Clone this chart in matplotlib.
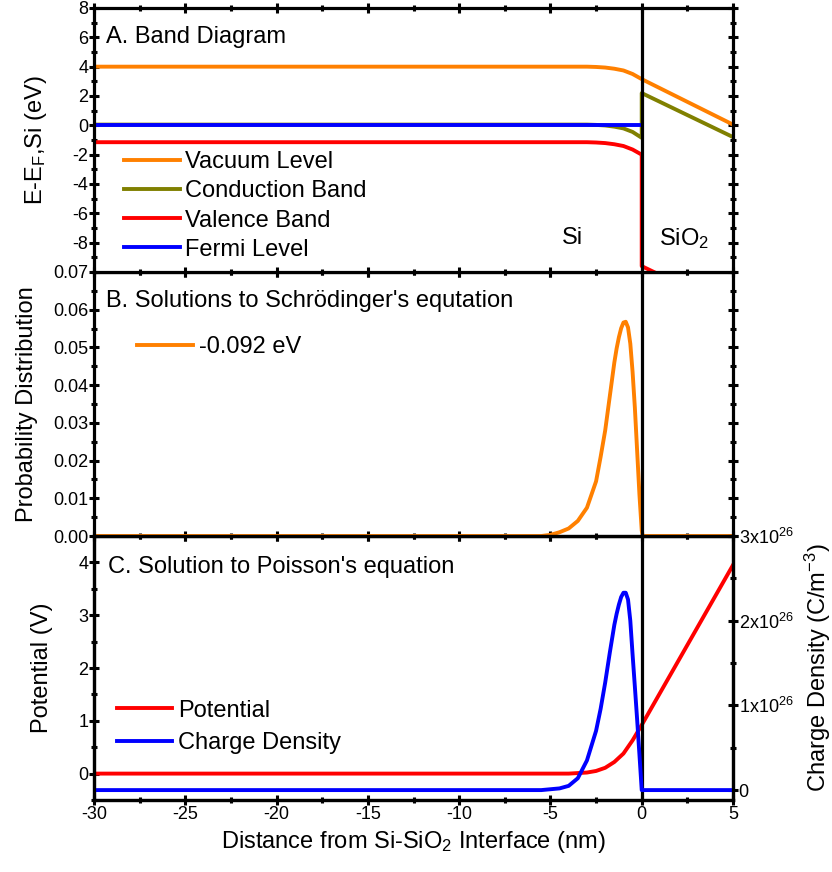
import numpy as np
import matplotlib
matplotlib.use("Agg")
import matplotlib.pyplot as plt
from matplotlib.ticker import MultipleLocator, FixedLocator, FixedFormatter, FormatStrFormatter

plt.rcParams['font.family'] = ['Liberation Sans', 'DejaVu Sans']
plt.rcParams['mathtext.fontset'] = 'custom'
plt.rcParams['mathtext.rm'] = 'Liberation Sans'
plt.rcParams['mathtext.it'] = 'Liberation Sans'
plt.rcParams['mathtext.default'] = 'regular'
plt.rcParams['axes.unicode_minus'] = False

ORANGE = '#ff8000'
OLIVE = '#808000'
RED = '#ff0000'
BLUE = '#0000ff'

# --- A. band diagram (eV) ---
x_band = [-30, -3, -2.5, -2, -1.5, -1, -0.5, 0]
vacuum_si = [4.0, 4.0, 3.98, 3.94, 3.86, 3.74, 3.5, 3.15]
cond_si = [0.05, 0.05, 0.03, -0.01, -0.09, -0.21, -0.45, -0.85]
val_si = [-1.15, -1.15, -1.17, -1.21, -1.29, -1.41, -1.65, -2.0]
x_ox = [0, 5]
vacuum_ox = [3.15, 0.05]
cond_ox = [2.2, -0.8]
val_ox = [-9.6, -12.6]
x_fermi = [-30, 0]
fermi = [0, 0]

# --- B. probability distribution (-0.092 eV state) ---
x_prob = [-30, -5.5, -5, -4.5, -4, -3.5, -3, -2.5, -2.25, -2, -1.75, -1.5,
          -1.375, -1.25, -1.125, -1.0, -0.875, -0.75, -0.625, -0.5, -0.375,
          -0.25, -0.125, 0, 0.05, 5]
prob = [0, 0, 0.0003, 0.001, 0.002, 0.004, 0.0075, 0.0145, 0.021, 0.028, 0.037,
        0.046, 0.0497, 0.0527, 0.0551, 0.0566, 0.0568, 0.0553, 0.051, 0.0435,
        0.034, 0.0225, 0.011, 0.0015, 0, 0]

# --- C. Poisson solution ---
x_pot = [-30, -4, -3, -2.5, -2, -1.5, -1, -0.5, 0, 5]
potential = [0, 0, 0.02, 0.05, 0.11, 0.22, 0.38, 0.63, 0.92, 3.95]
x_rho = [-30, -5.5, -4.5, -4, -3.5, -3, -2.5, -2.25, -2, -1.75, -1.5, -1.375,
         -1.25, -1.125, -1.0, -0.875, -0.75, -0.625, -0.5, -0.375, -0.25,
         -0.125, 0, 0.05, 5]
rho = np.array([0, 0, 0.02, 0.05, 0.14, 0.35, 0.7, 0.96, 1.27, 1.62, 1.95, 2.08,
                2.19, 2.28, 2.33, 2.33, 2.25, 2.0, 1.6, 1.22, 0.83, 0.42, 0.0,
                0, 0]) * 1e26

rho_ticks = [0, 1e26, 2e26, 3e26]
rho_labels = ['0', r'1x10$^{26}$', r'2x10$^{26}$', r'3x10$^{26}$']

LW = 2.8
FS = 17
TFS = 13

fig = plt.figure(figsize=(8.32, 8.72), dpi=100)
left, width = 94 / 832, 639 / 832
h = 264 / 872
bot_c = 1 - 800 / 872
axC = fig.add_axes([left, bot_c, width, h])
axB = fig.add_axes([left, bot_c + h, width, h], sharex=axC)
axA = fig.add_axes([left, bot_c + 2 * h, width, h], sharex=axC)

leg_kw = dict(loc='upper left', frameon=False, fontsize=FS, handlelength=2.35,
              handletextpad=0.25, borderaxespad=0, borderpad=0)

# panel A
axA.plot(x_band + x_ox, vacuum_si + vacuum_ox, color=ORANGE, lw=LW, label='Vacuum Level')
axA.plot(x_band + x_ox, cond_si + cond_ox, color=OLIVE, lw=LW, label='Conduction Band')
axA.plot(x_band + x_ox, val_si + val_ox, color=RED, lw=LW, label='Valence Band')
axA.plot(x_fermi, fermi, color=BLUE, lw=LW, label='Fermi Level')
axA.set_ylim(-10, 8)
axA.yaxis.set_major_locator(FixedLocator([-8, -6, -4, -2, 0, 2, 4, 6, 8]))
axA.yaxis.set_minor_locator(MultipleLocator(1))
axA.set_ylabel(r'E-E$_F$,Si (eV)', fontsize=FS)
axA.yaxis.set_label_coords(-0.07, 0.5)
axA.text(0.019, 0.867, 'A. Band Diagram', transform=axA.transAxes, fontsize=FS, va='baseline')
axA.text(-3.77, -7.7, 'Si', fontsize=FS, ha='center', va='center')
axA.text(2.3, -7.7, r'SiO$_2$', fontsize=FS, ha='center', va='center')
axA.legend(bbox_to_anchor=(0.047, 0.457), labelspacing=0.3, **leg_kw)

# panel B
axB.plot(x_prob, prob, color=ORANGE, lw=LW, label='-0.092 eV')
axB.set_ylim(0, 0.07)
axB.yaxis.set_major_locator(MultipleLocator(0.01))
axB.yaxis.set_minor_locator(MultipleLocator(0.005))
axB.yaxis.set_major_formatter(FormatStrFormatter('%.2f'))
axB.set_ylabel('Probability Distribution', fontsize=FS)
axB.yaxis.set_label_coords(-0.087, 0.5)
axB.text(0.019, 0.869, "B. Solutions to Schrödinger's equtation", transform=axB.transAxes,
         fontsize=FS, va='baseline')
axB.legend(bbox_to_anchor=(0.068, 0.757), **leg_kw)

# panel C
axR = axC.twinx()
lp, = axC.plot(x_pot, potential, color=RED, lw=LW, label='Potential')
lr, = axR.plot(x_rho, rho, color=BLUE, lw=LW, label='Charge Density')
axC.set_ylim(-0.5, 4.5)
axC.yaxis.set_major_locator(FixedLocator([0, 1, 2, 3, 4]))
axC.yaxis.set_minor_locator(MultipleLocator(0.5))
axR.set_ylim(-0.117e26, 3e26)
axR.yaxis.set_major_locator(FixedLocator(rho_ticks))
axR.yaxis.set_major_formatter(FixedFormatter(rho_labels))
axR.yaxis.set_minor_locator(MultipleLocator(0.5e26))
axC.set_xlim(-30, 5)
axC.xaxis.set_major_locator(MultipleLocator(5))
axC.xaxis.set_minor_locator(MultipleLocator(2.5))
axC.set_ylabel('Potential (V)', fontsize=FS)
axC.yaxis.set_label_coords(-0.064, 0.5)
axR.set_ylabel(r'Charge Density (C/m$^{-3}$)', fontsize=FS)
axR.yaxis.set_label_coords(1.11, 0.5)
axC.set_xlabel(r'Distance from Si-SiO$_2$ Interface (nm)', fontsize=FS)
axC.text(0.022, 0.86, "C. Solution to Poisson's equation", transform=axC.transAxes,
         fontsize=FS, va='baseline')
axC.legend([lp, lr], ['Potential', 'Charge Density'], bbox_to_anchor=(0.036, 0.38),
           labelspacing=0.44, **leg_kw)

# frame, interface line and ticks (one call per tick kind, direction given every time)
for ax in (axA, axB, axC, axR):
    for s in ax.spines.values():
        s.set_linewidth(2.3)
for ax in (axA, axB, axC):
    ax.axvline(0, color='black', lw=2.3, zorder=5)
    ax.tick_params(axis='x', which='major', direction='inout', length=7, width=2.2,
                   color='black', top=True, bottom=True, labelsize=TFS, pad=1)
    ax.tick_params(axis='x', which='minor', direction='inout', length=5, width=2.2,
                   color='black', top=True, bottom=True)
for ax, r in ((axA, True), (axB, True), (axC, False)):
    ax.tick_params(axis='y', which='major', direction='inout', length=7, width=2.2,
                   color='black', left=True, right=r, labelsize=TFS, pad=0.5)
    ax.tick_params(axis='y', which='minor', direction='inout', length=5, width=2.2,
                   color='black', left=True, right=r)
axR.tick_params(axis='y', which='major', direction='inout', length=7, width=2.2,
                color='black', right=True, labelsize=TFS, pad=0.5)
axR.tick_params(axis='y', which='minor', direction='inout', length=5, width=2.2,
                color='black', right=True)
axA.tick_params(labelbottom=False)
axB.tick_params(labelbottom=False)

fig.savefig('out.png', dpi=100)
